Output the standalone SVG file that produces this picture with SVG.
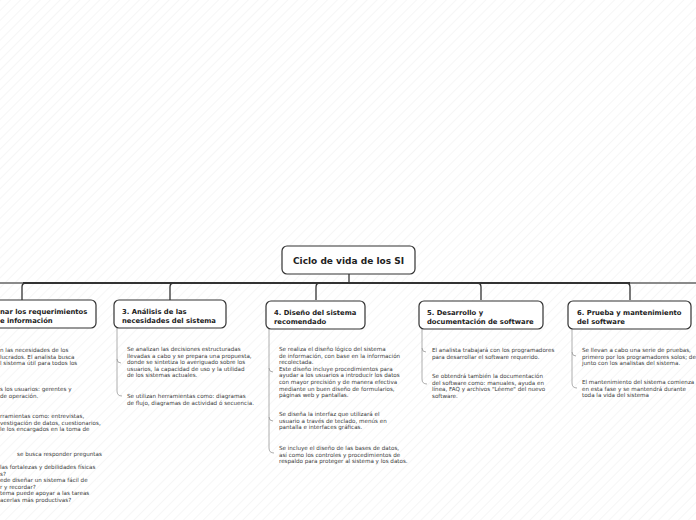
<svg xmlns="http://www.w3.org/2000/svg" width="696" height="520" viewBox="0 0 696 520">
<defs>
<pattern id="hatch" width="7" height="7" patternUnits="userSpaceOnUse" patternTransform="rotate(45)">
<line x1="0" y1="0" x2="0" y2="7" stroke="#e9e9e9" stroke-width="0.8"/>
</pattern>
<style>
.box{fill:#fff;stroke:#333;stroke-width:1.2}
.root{font-family:"DejaVu Sans",Verdana,sans-serif;font-weight:bold;font-size:9px;fill:#222}
.lbl{font-family:"DejaVu Sans",Verdana,sans-serif;font-weight:bold;font-size:6.8px;fill:#222}
.txt{font-family:"DejaVu Sans",Verdana,sans-serif;font-size:5.6px;fill:#3a3a3a}
.main{fill:none;stroke:#333;stroke-width:1.3}
.bar{fill:none;stroke:#333;stroke-width:2}
.outer{fill:none;stroke:#8a8a8a;stroke-width:2}
.sub{fill:none;stroke:#999;stroke-width:0.8}
</style>
</defs>
<rect width="696" height="520" fill="#fff"/>
<rect width="696" height="520" fill="url(#hatch)"/>

<g id="connectors">
<path class="outer" d="M0,283 H23"/>
<path class="outer" d="M630,283 H696"/>
<path class="bar" d="M23,283 H630"/>
<path class="main" d="M349,274 V283"/>
<path class="main" d="M26,283 Q22,283 22,287 V300"/>
<path class="main" d="M174,283 Q170,283 170,287 V300"/>
<path class="main" d="M320,283 Q316,283 316,287 V300"/>
<path class="main" d="M477,283 Q481,283 481,287 V300"/>
<path class="main" d="M626,283 Q630,283 630,287 V300"/>
<path class="sub" d="M117,328 V391 Q117,396 122,396"/>
<path class="sub" d="M117,359 Q117,363 121,363"/>
<path class="sub" d="M269,329 V448 Q269,453 274,453"/>
<path class="sub" d="M269,368 Q269,372 273,372"/>
<path class="sub" d="M269,417 Q269,421 273,421"/>
<path class="sub" d="M422,328 V379 Q422,384 427,384"/>
<path class="sub" d="M422,348 Q422,352 426,352"/>
<path class="sub" d="M572,328 V383 Q572,388 577,388"/>
<path class="sub" d="M572,352 Q572,356 576,356"/>
</g>

<g id="root">
<rect class="box" x="282" y="246" width="133" height="28" rx="5"/>
<text class="root" x="348.5" y="264" text-anchor="middle">Ciclo de vida de los SI</text>
</g>

<g id="node2">
<rect class="box" x="-52" y="300" width="148" height="28" rx="5"/>
<text class="lbl" x="0" y="313.5">nar los requerimientos</text>
<text class="lbl" x="0" y="322.5">e información</text>
<text class="txt" x="0" y="352">n las necesidades de los</text>
<text class="txt" x="0" y="358.6">lucrados. El analista busca</text>
<text class="txt" x="0" y="365.2">l sistema útil para todos los</text>
<text class="txt" x="0" y="391">s los usuarios: gerentes y</text>
<text class="txt" x="0" y="397.6">de operación.</text>
<text class="txt" x="0" y="418">rramientas como: entrevistas,</text>
<text class="txt" x="0" y="424.6">vestigación de datos, cuestionarios,</text>
<text class="txt" x="0" y="431.2">le los encargados en la toma de</text>
<text class="txt" x="17" y="456">se busca responder preguntas</text>
<text class="txt" x="0" y="469">las fortalezas y debilidades físicas</text>
<text class="txt" x="0" y="475.6">s?</text>
<text class="txt" x="0" y="482.2">ede diseñar un sistema fácil de</text>
<text class="txt" x="0" y="488.8">r y recordar?</text>
<text class="txt" x="0" y="495.4">tema puede apoyar a las tareas</text>
<text class="txt" x="0" y="502">acerlas más productivas?</text>
</g>

<g id="node3">
<rect class="box" x="114" y="300" width="112" height="28" rx="5"/>
<text class="lbl" x="122" y="313.5">3. Análisis de las</text>
<text class="lbl" x="122" y="322.5">necesidades del sistema</text>
<text class="txt" x="127" y="351">Se analizan las decisiones estructuradas</text>
<text class="txt" x="127" y="357.6">llevadas a cabo y se prepara una propuesta,</text>
<text class="txt" x="127" y="364.2">donde se sintetiza lo averiguado sobre los</text>
<text class="txt" x="127" y="370.8">usuarios, la capacidad de uso y la utilidad</text>
<text class="txt" x="127" y="377.4">de los sistemas actuales.</text>
<text class="txt" x="127" y="398">Se utilizan herramientas como: diagramas</text>
<text class="txt" x="127" y="404.6">de flujo, diagramas de actividad ó secuencia.</text>
</g>

<g id="node4">
<rect class="box" x="266" y="301" width="99" height="28" rx="5"/>
<text class="lbl" x="274" y="314.5">4. Diseño del sistema</text>
<text class="lbl" x="274" y="323.5">recomendado</text>
<text class="txt" x="279" y="351">Se realiza el diseño lógico del sistema</text>
<text class="txt" x="279" y="357.6">de información, con base en la información</text>
<text class="txt" x="279" y="364.2">recolectada.</text>
<text class="txt" x="279" y="370.8">Este diseño incluye procedimientos para</text>
<text class="txt" x="279" y="377.4">ayudar a los usuarios a introducir los datos</text>
<text class="txt" x="279" y="384">con mayor precisión y de manera efectiva</text>
<text class="txt" x="279" y="390.6">mediante un buen diseño de formularios,</text>
<text class="txt" x="279" y="397.2">páginas web y pantallas.</text>
<text class="txt" x="279" y="416">Se diseña la interfaz que utilizará el</text>
<text class="txt" x="279" y="422.6">usuario a través de teclado, menús en</text>
<text class="txt" x="279" y="429.2">pantalla e interfaces gráficas.</text>
<text class="txt" x="279" y="450">Se incluye el diseño de las bases de datos,</text>
<text class="txt" x="279" y="456.6">así como los controles y procedimientos de</text>
<text class="txt" x="279" y="463.2">respaldo para proteger al sistema y los datos.</text>
</g>

<g id="node5">
<rect class="box" x="419" y="301" width="124" height="28" rx="5"/>
<text class="lbl" x="427" y="314.5">5. Desarrollo y</text>
<text class="lbl" x="427" y="323.5">documentación de software</text>
<text class="txt" x="432" y="352">El analista trabajará con los programadores</text>
<text class="txt" x="432" y="358.6">para desarrollar el software requerido.</text>
<text class="txt" x="432" y="378">Se obtendrá también la documentación</text>
<text class="txt" x="432" y="384.6">del software como: manuales, ayuda en</text>
<text class="txt" x="432" y="391.2">línea, FAQ y archivos "Léeme" del nuevo</text>
<text class="txt" x="432" y="397.8">software.</text>
</g>

<g id="node6">
<rect class="box" x="568" y="301" width="123" height="28" rx="5"/>
<text class="lbl" x="577" y="314.5">6. Prueba y mantenimiento</text>
<text class="lbl" x="577" y="323.5">del software</text>
<text class="txt" x="582" y="352">Se llevan a cabo una serie de pruebas,</text>
<text class="txt" x="582" y="358.6">primero por los programadores solos; de</text>
<text class="txt" x="582" y="365.2">junto con los analistas del sistema.</text>
<text class="txt" x="582" y="384">El mantenimiento del sistema comienza</text>
<text class="txt" x="582" y="390.6">en esta fase y se mantendrá durante</text>
<text class="txt" x="582" y="397.2">toda la vida del sistema</text>
</g>
</svg>
